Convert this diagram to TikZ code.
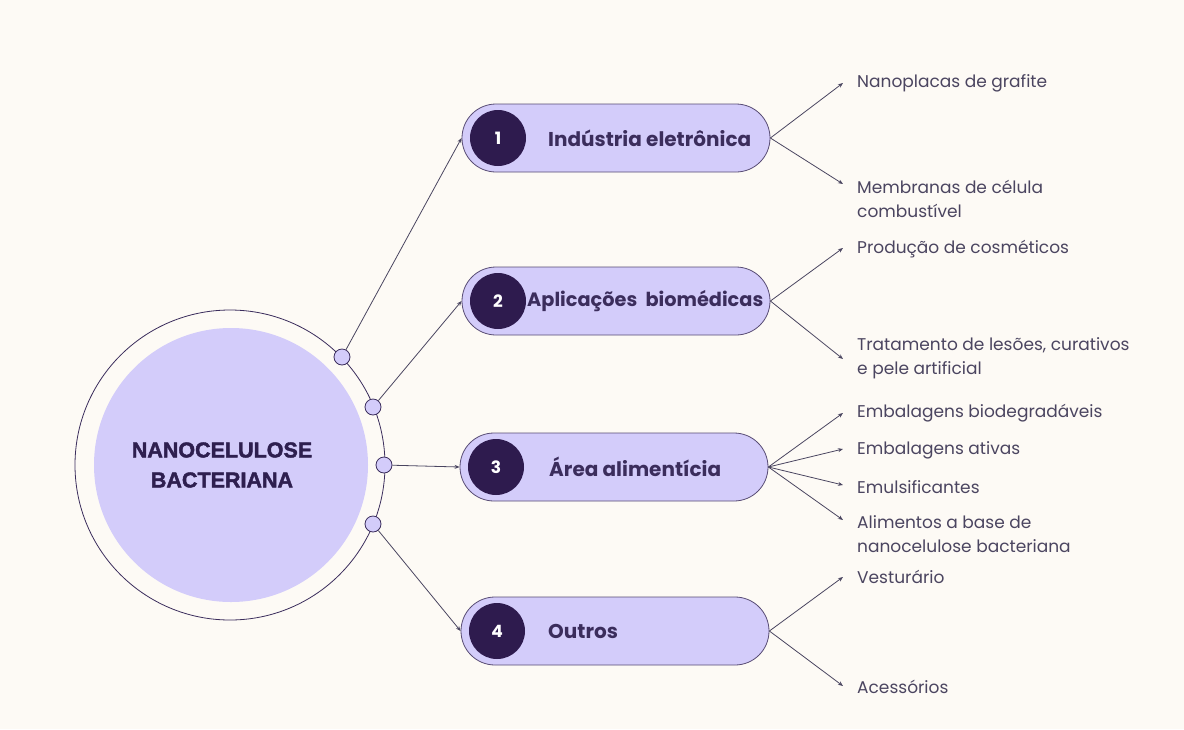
\documentclass[tikz,border=0pt]{standalone}
\usepackage{fontspec}
\setmainfont{Poppins}
\newfontfamily\titlefont{Liberation Sans Bold}[FakeBold=2]
\usetikzlibrary{arrows.meta}
\definecolor{bg}{HTML}{FDFAF5}
\definecolor{lav}{HTML}{D3CCFA}
\definecolor{dark}{HTML}{2E1B4E}
\definecolor{ink}{HTML}{3B2D5C}
\definecolor{titleink}{HTML}{2E1F4F}
\definecolor{labelgray}{HTML}{4B4560}
\definecolor{linec}{HTML}{4A4560}
\tikzset{
  pill/.style={draw=ink!85, line width=0.8pt, fill=lav, rounded corners=34pt, minimum width=308pt, minimum height=68pt, inner sep=0pt},
  numc/.style={circle, fill=dark, minimum size=56pt, inner sep=0pt, text=white, font=\fontsize{17}{17}\selectfont\bfseries},
  dotc/.style={circle, draw=ink, fill=lav, minimum size=16pt, inner sep=0pt, line width=0.8pt},
  ptext/.style={anchor=west, inner sep=0pt, text=ink, font=\fontsize{20}{20}\selectfont\bfseries},
  lbl/.style={anchor=west, inner sep=0pt, text=labelgray, font=\fontsize{17}{24}\selectfont, align=left},
  conn/.style={draw=linec, line width=0.8pt, -{Stealth[length=5pt,width=4pt]}}
}
\begin{document}
\begin{tikzpicture}[x=1pt,y=-1pt]
\fill[bg] (0,0) rectangle (1184,729);
\useasboundingbox (0,0) rectangle (1184,729);

% central circle
\node[circle, draw=ink, line width=0.8pt, minimum size=310pt, inner sep=0pt] (outer) at (230,465) {};
\node[circle, fill=lav, minimum size=274pt, inner sep=0pt] (center) at (231,465) {};
\node[align=center, text=titleink, inner sep=0pt, font=\titlefont\fontsize{21.5}{30}\selectfont] (title) at (222,465) {NANOCELULOSE\\BACTERIANA};

% dots
\node[dotc] (d1) at (342,357) {};
\node[dotc] (d2) at (373,407) {};
\node[dotc] (d3) at (384,465) {};
\node[dotc] (d4) at (373,524) {};

% pills
\node[pill] (p1) at (616,138) {};
\node[pill] (p2) at (616,301) {};
\node[pill] (p3) at (614,467) {};
\node[pill] (p4) at (615,631) {};

\node[numc] (n1) at (498,138) {1};
\node[numc] (n2) at (498,301) {2};
\node[numc] (n3) at (496,467) {3};
\node[numc] (n4) at (497,631) {4};

\node[ptext] (t1) at (548,138) {Indústria eletrônica};
\node[ptext, font=\fontsize{19.3}{19.3}\selectfont\bfseries] (t2) at (527,301) {Aplicações\ \ biomédicas};
\node[ptext] (t3) at (549,467) {Área alimentícia};
\node[ptext] (t4) at (548,631) {Outros};

% left connectors
\draw[conn] (d1) -- (p1.west);
\draw[conn] (d2) -- (p2.west);
\draw[conn] (d3) -- (p3.west);
\draw[conn] (d4) -- (p4.west);

% labels
\node[lbl] (l11) at (857,83) {Nanoplacas de grafite};
\node[lbl] (l12) at (857,199) {Membranas de célula\\combustível};
\node[lbl] (l21) at (857,249) {Produção de cosméticos};
\node[lbl] (l22) at (857,358) {Tratamento de lesões, curativos\\e pele artificial};
\node[lbl] (l31) at (857,413) {Embalagens biodegradáveis};
\node[lbl] (l32) at (857,450) {Embalagens ativas};
\node[lbl] (l33) at (857,487) {Emulsificantes};
\node[lbl] (l34) at (857,534) {Alimentos a base de\\nanocelulose bacteriana};
\node[lbl] (l41) at (857,577) {Vesturário};
\node[lbl] (l42) at (857,687) {Acessórios};

% arrow tips
\coordinate (a11) at (843,83);
\coordinate (a12) at (843,184);
\coordinate (a21) at (843,248);
\coordinate (a22) at (843,359);
\coordinate (a31) at (843,413);
\coordinate (a32) at (843,449);
\coordinate (a33) at (843,485);
\coordinate (a34) at (843,520);
\coordinate (a41) at (843,577);
\coordinate (a42) at (843,686);

\draw[conn] (p1.east) -- (a11);
\draw[conn] (p1.east) -- (a12);
\draw[conn] (p2.east) -- (a21);
\draw[conn] (p2.east) -- (a22);
\draw[conn] (p3.east) -- (a31);
\draw[conn] (p3.east) -- (a32);
\draw[conn] (p3.east) -- (a33);
\draw[conn] (p3.east) -- (a34);
\draw[conn] (p4.east) -- (a41);
\draw[conn] (p4.east) -- (a42);
\end{tikzpicture}
\end{document}
